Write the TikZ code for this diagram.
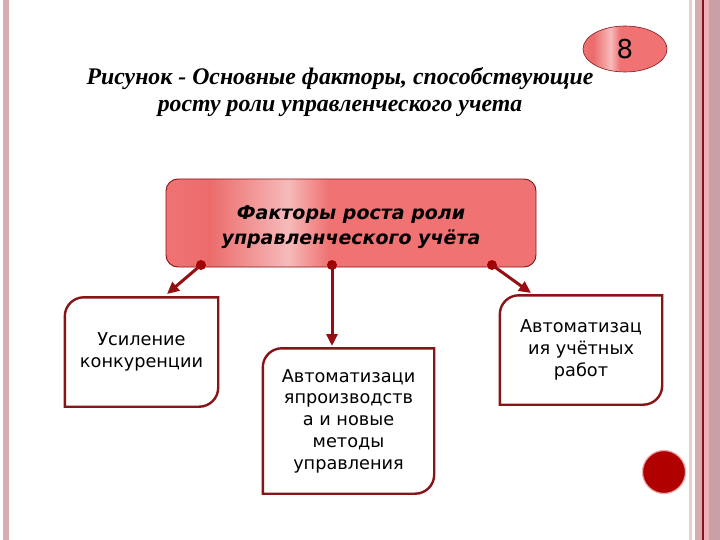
\documentclass[tikz,border=0pt]{standalone}
\usepackage{fontspec}
\setmainfont{DejaVu Sans}
\newfontfamily\titlefont{Liberation Serif}
\usetikzlibrary{arrows.meta,shapes.geometric,calc}
\definecolor{salm}{RGB}{240,114,114}
\definecolor{salmd}{RGB}{236,108,108}
\definecolor{pinkhl}{RGB}{246,186,186}
\definecolor{bord}{RGB}{135,20,22}
\definecolor{arrc}{RGB}{150,14,18}
\definecolor{dotc}{RGB}{165,0,0}
\definecolor{circred}{RGB}{176,0,0}
\definecolor{circrim}{RGB}{238,170,170}
\definecolor{stripeA}{RGB}{214,174,178}
\definecolor{stripeB}{RGB}{232,208,212}
\definecolor{stripeC}{RGB}{200,160,165}
\definecolor{stripeD}{RGB}{236,178,184}
\pgfdeclarehorizontalshading{pinkshade}{100bp}{color(0bp)=(salm); color(25bp)=(salm); color(31bp)=(salmd); color(41.5bp)=(pinkhl); color(47bp)=(salm); color(100bp)=(salm)}
\tikzset{
  mainbox/.style={rectangle, rounded corners=12pt, draw=bord, line width=0.9pt, shade, shading=pinkshade, minimum width=370pt, minimum height=88pt, inner sep=0pt},
  maintext/.style={align=center, inner sep=0pt, font=\bfseries\itshape\fontsize{19}{25}\selectfont},
  txtbox/.style={rectangle, draw=none, align=center, inner sep=0pt, font=\fontsize{17.7}{21.7}\selectfont},
  bordline/.style={draw=bord, line width=2.4pt},
  arr/.style={draw=arrc, line width=3pt, -{Triangle[length=12pt,width=11pt]}},
  dotn/.style={circle, fill=dotc, minimum size=10pt, inner sep=0pt},
}
% #1 node name, #2 vertical offset of the border (pt, page-down positive)
\newcommand\fancyborder[2]{%
  \begin{scope}[yshift=#2pt]
  \draw[bordline] ([xshift=19pt]#1.north west) -- (#1.north east) -- ([yshift=19pt]#1.south east)
    arc[start angle=0, end angle=-90, radius=19pt] -- (#1.south west) -- ([yshift=-19pt]#1.north west)
    arc[start angle=180, end angle=90, radius=19pt] -- cycle;
  \end{scope}}
\begin{document}
\begin{tikzpicture}[x=1pt,y=-1pt]
\useasboundingbox (0,0) rectangle (720,540);
\fill[white] (0,0) rectangle (720,540);
% page stripes
\fill[stripeA] (3,0) rectangle (9,540);
\fill[stripeB] (689,0) rectangle (692,540);
\fill[stripeA] (695,0) rectangle (702,540);
\fill[bord] (702,0) rectangle (703.5,540);
\fill[stripeD] (703.5,0) rectangle (709,540);
\fill[stripeC] (709,0) rectangle (720,540);
% title
\node[align=center, font=\titlefont\bfseries\itshape\fontsize{23.8}{27}\selectfont] (title) at (340,92)
  {Рисунок - Основные факторы, способствующие\\ росту роли управленческого учета};
% number
\node[ellipse, minimum width=84pt, minimum height=46pt, inner sep=0pt, draw=bord, line width=0.6pt, shade, shading=pinkshade, font=\fontsize{26}{26}\selectfont] (num) at (625,49) {8};
% main box
\node[mainbox] (m) at (351,223) {};
\node[maintext] (mt) at (351,227) {Факторы роста роли\\управленческого учёта};
% child boxes (text slightly below box centre; borders shifted back up)
\node[txtbox, minimum width=153pt, minimum height=109pt] (b1) at (141.5,352) {Усиление\\конкуренции};
\node[txtbox, minimum width=171pt, minimum height=145pt] (b2) at (348.5,421) {Автоматизаци\\япроизводств\\а и новые\\методы\\управления};
\node[txtbox, minimum width=162pt, minimum height=109pt] (b3) at (581,350) {Автоматизац\\ия учётных\\работ};
\fancyborder{b1}{2.5}
\fancyborder{b2}{1.5}
\fancyborder{b3}{2.5}
% dots and arrows
\node[dotn] (d1) at (201,265) {};
\node[dotn] (d2) at (332,265) {};
\node[dotn] (d3) at (492,265) {};
\coordinate (t1) at (167,294);
\coordinate (t2) at (332,346);
\coordinate (t3) at (531,293);
\draw[arr] (d1.center) -- (t1);
\draw[arr] (d2.center) -- (t2);
\draw[arr] (d3.center) -- (t3);
% red circle
\node[circle, minimum size=43pt, inner sep=0pt, fill=circred, draw=circrim, line width=1.2pt] (c) at (664,472) {};
\end{tikzpicture}
\end{document}
